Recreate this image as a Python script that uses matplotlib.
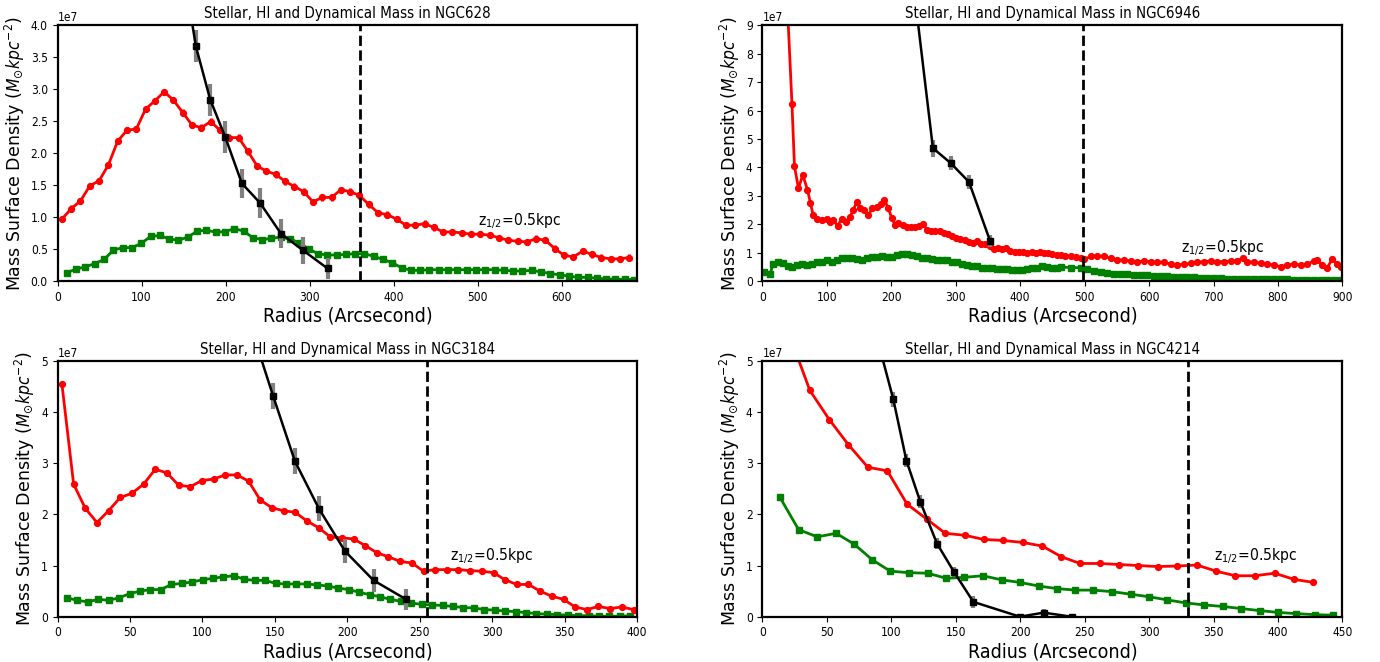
import matplotlib
matplotlib.use('Agg')
import matplotlib.pyplot as plt
from matplotlib import font_manager
import numpy as np

# the reference text is narrow; use a condensed face if one is installed
narrow, stretch, wf = 'DejaVu Sans', 'normal', 1.0
for f in font_manager.fontManager.ttflist:
    if f.style != 'normal' or f.weight not in (400, 'normal', 'regular'):
        continue
    if f.name == 'DejaVu Sans' and f.stretch == 'condensed':
        narrow, stretch, wf = 'DejaVu Sans', 'condensed', 0.89
        break
    if f.name in ('Liberation Sans Narrow', 'Roboto Condensed') and wf == 1.0:
        narrow, stretch, wf = f.name, 'normal', 0.76

plt.rcParams['font.family'] = [narrow, 'DejaVu Sans']
plt.rcParams['font.stretch'] = stretch


def fs(target, cap):
    # size that gives the reference text width, not taller than the reference
    return min(target / wf, cap)


# masses in units of 1e7 Msun/kpc^2, radii in arcsec
# NGC628
r628_hi = [5.2, 16.3, 27.3, 38.4, 49.5, 60.6, 71.6, 82.7, 93.8, 104.8,
           115.9, 127.0, 138.0, 149.1, 160.2, 171.3, 182.3, 193.4, 204.5, 215.5,
           226.6, 237.7, 248.7, 259.8, 270.9, 282.0, 293.0, 304.1, 315.2, 326.2,
           337.3, 348.4, 359.4, 370.5, 381.6, 392.6, 403.7, 414.8, 425.9, 436.9,
           448.0, 459.1, 470.1, 481.2, 492.3, 503.4, 514.4, 525.5, 536.6, 547.6,
           558.7, 569.8, 580.8, 591.9, 603.0, 614.1, 625.1, 636.2, 647.3, 658.3,
           669.4, 680.5]
m628_hi = [0.97, 1.135, 1.255, 1.49, 1.57, 1.82, 2.19, 2.36, 2.38, 2.69,
           2.82, 2.96, 2.83, 2.635, 2.44, 2.40, 2.495, 2.36, 2.245, 2.245,
           2.03, 1.80, 1.72, 1.67, 1.56, 1.48, 1.40, 1.24, 1.31, 1.31,
           1.43, 1.40, 1.34, 1.20, 1.07, 1.04, 0.97, 0.875, 0.875, 0.90,
           0.84, 0.77, 0.77, 0.755, 0.735, 0.735, 0.72, 0.68, 0.64, 0.625,
           0.615, 0.665, 0.64, 0.51, 0.405, 0.38, 0.47, 0.42, 0.37, 0.35,
           0.35, 0.37]
r628_st = [11.1, 22.2, 33.2, 44.3, 55.4, 66.5, 77.5, 88.6, 99.7, 110.7,
           121.8, 132.9, 143.9, 155.0, 166.1, 177.2, 188.2, 199.3, 210.4, 221.4,
           232.5, 243.6, 254.6, 265.7, 276.8, 287.9, 298.9, 310.0, 321.1, 332.1,
           343.2, 354.3, 365.3, 376.4, 387.5, 398.5, 409.6, 420.7, 431.8, 442.8,
           453.9, 465.0, 476.0, 487.1, 498.2, 509.3, 520.3, 531.4, 542.5, 553.5,
           564.6, 575.7, 586.7, 597.8, 608.9, 620.0, 631.0, 642.1, 653.2, 664.2,
           675.3, 686.4]
m628_st = [0.135, 0.19, 0.225, 0.275, 0.34, 0.485, 0.525, 0.525, 0.59, 0.70,
           0.715, 0.66, 0.64, 0.69, 0.78, 0.80, 0.765, 0.775, 0.82, 0.785,
           0.68, 0.65, 0.67, 0.69, 0.66, 0.60, 0.505, 0.43, 0.41, 0.41,
           0.42, 0.43, 0.43, 0.39, 0.34, 0.29, 0.21, 0.17, 0.17, 0.18,
           0.18, 0.18, 0.18, 0.18, 0.18, 0.18, 0.18, 0.17, 0.16, 0.16,
           0.17, 0.145, 0.12, 0.10, 0.08, 0.06, 0.06, 0.047, 0.036, 0.031,
           0.031, 0.026]
r628_dyn = [149.0, 164.7, 181.7, 199.6, 219.4, 241.3, 265.9, 292.0, 321.4]
m628_dyn = [4.95, 3.67, 2.84, 2.255, 1.53, 1.22, 0.745, 0.485, 0.20]
e628_dyn = [0.25, 0.25, 0.25, 0.25, 0.23, 0.23, 0.22, 0.21, 0.17]

# NGC6946
r6946_hi = [35.0, 45.8, 49.7, 55.9, 62.6, 69.9, 74.5, 78.6, 85.4, 92.6,
            99.4, 104.6, 109.8, 116.5, 122.9, 129.1, 135.8, 141.0, 146.3, 151.5,
            158.2, 164.4, 170.6, 177.4, 184.1, 189.3, 195.5, 200.7, 205.9, 211.1,
            217.9, 224.1, 230.8, 237.1, 243.3, 249.0, 255.2, 262.0, 268.2, 274.9,
            281.1, 287.9, 294.1, 300.8, 307.0, 313.8, 320.0, 326.8, 333.0, 339.7,
            345.9, 352.7, 358.9, 365.6, 371.8, 378.6, 384.8, 391.6, 397.8, 404.5,
            410.7, 417.5, 423.7, 430.5, 436.7, 443.4, 449.6, 456.4,
            462.7, 470.0, 478.3, 486.0, 493.8, 499.0, 509.3, 519.6, 530.0, 540.4,
            550.7, 561.0, 571.4, 581.8, 592.0, 602.5, 612.8, 623.0, 633.5, 643.8,
            654.0, 664.5, 674.8, 685.0, 695.5, 705.8, 716.0, 726.5, 736.8, 746.1,
            752.3, 762.7, 773.0, 783.4, 793.7, 804.0, 814.4, 824.7, 835.0, 845.4,
            855.7, 861.0, 868.7, 876.5, 884.3, 892.0, 897.3]
m6946_hi = [11.5, 6.23, 4.04, 3.27, 3.74, 3.21, 2.75, 2.33, 2.19, 2.16,
            2.20, 2.09, 2.16, 1.95, 2.18, 2.09, 2.27, 2.50, 2.79, 2.56,
            2.50, 2.33, 2.56, 2.62, 2.71, 2.85, 2.56, 2.21, 1.98, 2.04,
            1.98, 1.90, 1.90, 1.90, 1.95, 2.02, 1.81, 1.78, 1.78, 1.75,
            1.71, 1.66, 1.60, 1.51, 1.47, 1.45, 1.39, 1.33, 1.42, 1.31,
            1.31, 1.24, 1.13, 1.16, 1.13, 1.16, 1.08, 1.04, 1.02, 1.02,
            0.98, 1.04, 1.00, 1.04, 1.00, 0.98, 0.95, 0.91,
            0.93, 0.90, 0.87, 0.84, 0.81, 0.77, 0.87, 0.90, 0.87, 0.81,
            0.75, 0.75, 0.71, 0.69, 0.71, 0.69, 0.67, 0.67, 0.60, 0.57,
            0.60, 0.63, 0.67, 0.69, 0.71, 0.69, 0.69, 0.71, 0.71, 0.83,
            0.69, 0.67, 0.63, 0.60, 0.57, 0.51, 0.57, 0.60, 0.57, 0.60,
            0.71, 0.75, 0.57, 0.48, 0.78, 0.60, 0.51]
r6946_st = [3.1, 11.8, 16.6, 24.8, 32.6, 40.4, 45.5, 53.3, 61.1, 68.9,
            76.6, 84.4, 92.2, 99.9, 107.7, 115.4, 123.2, 131.0, 138.7, 146.5,
            154.3, 162.0, 169.8, 177.6, 185.3, 193.1, 200.8, 208.6, 216.4, 224.1,
            231.9, 239.6, 247.4, 255.2, 262.9, 270.7, 278.5, 286.2, 294.0, 301.8,
            309.5, 317.3, 325.0, 332.8, 340.6, 348.3, 356.1, 363.9, 371.6, 379.4,
            387.2, 394.9, 402.7, 410.4, 418.2, 426.0, 433.7, 441.5, 449.3, 457.0,
            462.7, 478.3, 493.8, 504.1, 514.5, 524.8, 535.2, 545.5, 555.9, 566.2,
            576.6, 586.9, 597.3, 607.6, 618.0, 628.3, 638.7, 649.0, 659.4, 669.7,
            680.0, 690.4, 700.8, 711.1, 721.5, 731.8, 742.2, 752.5, 762.9, 773.2,
            783.6, 793.9, 804.3, 814.6, 825.0, 835.3, 845.7, 856.0, 866.4, 876.7,
            887.1, 897.4]
m6946_st = [0.34, 0.25, 0.61, 0.66, 0.63, 0.54, 0.49, 0.57, 0.59, 0.57,
            0.59, 0.66, 0.69, 0.73, 0.66, 0.75, 0.80, 0.82, 0.81, 0.77,
            0.75, 0.82, 0.85, 0.85, 0.87, 0.85, 0.85, 0.91, 0.95, 0.95,
            0.91, 0.87, 0.83, 0.81, 0.77, 0.75, 0.75, 0.75, 0.69, 0.66,
            0.61, 0.58, 0.55, 0.52, 0.48, 0.46, 0.45, 0.42, 0.42, 0.42,
            0.40, 0.40, 0.40, 0.42, 0.45, 0.48, 0.52, 0.49, 0.48, 0.47,
            0.50, 0.48, 0.48, 0.42, 0.36, 0.32, 0.29, 0.27, 0.26, 0.25,
            0.23, 0.22, 0.21, 0.20, 0.19, 0.18, 0.16, 0.15, 0.15, 0.14,
            0.13, 0.13, 0.12, 0.11, 0.09, 0.09, 0.08, 0.08, 0.07, 0.07,
            0.07, 0.07, 0.07, 0.07, 0.06, 0.06, 0.06, 0.06, 0.06, 0.06,
            0.05, 0.05]
r6946_dyn = [236.0, 264.5, 291.8, 320.5, 353.3]
m6946_dyn = [10.1, 4.68, 4.16, 3.49, 1.41]
e6946_dyn = [0.3, 0.3, 0.25, 0.25, 0.2]

# NGC3184
r3184_hi = [3.0, 11.1, 19.1, 27.2, 35.2, 43.3, 51.3, 59.4, 67.4, 75.5,
            83.5, 91.6, 99.6, 107.7, 115.7, 123.8, 131.8, 139.9, 147.9, 156.0,
            164.0, 172.1, 180.1, 188.2, 196.2, 204.3, 212.3, 220.4, 228.4, 236.5,
            244.5, 252.6, 260.6, 268.7, 276.7, 284.8, 292.8, 300.9, 308.9, 317.0,
            325.0, 333.1, 341.1, 349.2, 357.2, 365.3, 373.3, 381.4, 389.4, 397.5]
m3184_hi = [4.55, 2.59, 2.12, 1.84, 2.07, 2.33, 2.41, 2.59, 2.88, 2.81,
            2.57, 2.54, 2.66, 2.69, 2.77, 2.77, 2.65, 2.28, 2.13, 2.07,
            2.04, 1.87, 1.74, 1.56, 1.54, 1.52, 1.39, 1.25, 1.17, 1.08,
            1.05, 0.89, 0.92, 0.92, 0.92, 0.90, 0.89, 0.86, 0.72, 0.63,
            0.63, 0.50, 0.40, 0.34, 0.19, 0.14, 0.20, 0.16, 0.19, 0.14]
r3184_st = [6.5, 13.7, 20.9, 28.1, 35.3, 42.5, 49.7, 56.9, 64.1, 71.3,
            78.5, 85.7, 92.9, 100.1, 107.3, 114.5, 121.7, 128.9, 136.1, 143.3,
            150.5, 157.7, 164.9, 172.1, 179.3, 186.5, 193.7, 200.9, 208.1, 215.3,
            222.5, 229.7, 236.9, 244.1, 251.3, 258.5, 265.7, 272.9, 280.1, 287.3,
            294.5, 301.7, 308.9, 316.1, 323.3, 330.5, 337.7, 344.9, 352.1, 359.3,
            366.5, 373.7, 380.9, 388.1, 395.3]
m3184_st = [0.37, 0.32, 0.29, 0.34, 0.32, 0.37, 0.45, 0.50, 0.53, 0.53,
            0.63, 0.65, 0.68, 0.72, 0.75, 0.78, 0.80, 0.73, 0.71, 0.71,
            0.65, 0.64, 0.64, 0.64, 0.62, 0.60, 0.56, 0.53, 0.48, 0.43,
            0.39, 0.34, 0.30, 0.27, 0.24, 0.23, 0.22, 0.20, 0.18, 0.17,
            0.14, 0.13, 0.11, 0.10, 0.08, 0.06, 0.05, 0.04, 0.03, 0.02,
            0.02, 0.01, 0.01, 0.01, 0.02]
r3184_dyn = [135.3, 148.8, 163.8, 180.4, 198.4, 218.1, 240.5]
m3184_dyn = [5.5, 4.31, 3.04, 2.11, 1.28, 0.71, 0.34]
e3184_dyn = [0.26, 0.26, 0.25, 0.24, 0.24, 0.22, 0.21]

# NGC4214
r4214_hi = [21.7, 36.8, 51.9, 66.7, 81.8, 96.9, 112.2, 127.3, 141.8, 157.2,
            171.7, 186.8, 202.1, 217.2, 232.0, 246.5, 261.6, 276.7, 291.5, 306.6,
            321.9, 337.0, 352.1, 366.9, 382.0, 397.3, 412.4, 427.5]
m4214_hi = [5.45, 4.42, 3.85, 3.36, 2.92, 2.85, 2.20, 1.91, 1.63, 1.59,
            1.51, 1.49, 1.45, 1.38, 1.17, 1.04, 1.04, 1.02, 1.00, 0.98,
            0.99, 1.01, 0.89, 0.80, 0.80, 0.85, 0.73, 0.67]
r4214_st = [13.6, 28.1, 42.6, 57.1, 71.1, 85.3, 99.2, 113.7, 128.2, 142.7,
            156.6, 171.1, 185.6, 199.8, 214.3, 228.2, 242.7, 256.7, 271.2, 285.7,
            299.9, 313.8, 328.3, 342.8, 357.3, 371.2, 385.7, 399.7, 414.2, 428.6,
            442.9]
m4214_st = [2.33, 1.70, 1.56, 1.63, 1.42, 1.11, 0.89, 0.86, 0.85, 0.75,
            0.77, 0.80, 0.72, 0.67, 0.60, 0.55, 0.52, 0.52, 0.49, 0.44,
            0.39, 0.33, 0.27, 0.23, 0.20, 0.16, 0.12, 0.085, 0.06, 0.04,
            0.03]
r4214_dyn = [91.5, 101.5, 111.7, 122.4, 135.4, 148.5, 163.6, 199.8, 218.1, 239.9]
m4214_dyn = [5.2, 4.25, 3.05, 2.25, 1.43, 0.88, 0.29, 0.0, 0.08, 0.0]
e4214_dyn = [0.15, 0.15, 0.12, 0.12, 0.1, 0.1, 0.12, 0.05, 0.08, 0.03]

galaxies = ['NGC628', 'NGC6946', 'NGC3184', 'NGC4214']
z_half = [360, 498, 255, 330]       # radius of z_1/2 = 0.5 kpc
x_max = [690, 900, 400, 450]
y_max = [4.0, 9, 5, 5]
y_step = [0.5, 1, 1, 1]
label_pos = [(500, 0.88), (650, 1.0), (271, 1.1), (350, 1.1)]


def panel(ax, name, r_hi, m_hi, r_st, m_st, r_dyn, m_dyn, e_dyn, zline, xmax, ymax, ystep, lpos):
    s = 1e7
    ax.errorbar(r_hi, np.array(m_hi) * s, yerr=0.05 * s, color='red', marker='o',
                ms=4.2, lw=2, elinewidth=2, zorder=2)
    ax.plot(r_st, np.array(m_st) * s, color='green', marker='s', ms=3.8, lw=2, zorder=2)
    ax.errorbar(r_dyn, np.array(m_dyn) * s, yerr=np.array(e_dyn) * s, color='black',
                marker='s', ms=4, lw=1.8, ecolor='gray', elinewidth=3, zorder=3)
    ax.axvline(zline, color='black', ls='--', lw=2, zorder=4)
    ax.text(lpos[0], lpos[1] * s, r'z$_{1/2}$=0.5kpc', fontsize=fs(10, 12.5))

    ax.set_xlim(0, xmax)
    ax.set_ylim(0, ymax * s)
    ax.set_yticks(np.arange(0, ymax + ystep / 2, ystep) * s)
    ax.set_title('Stellar, HI and Dynamical Mass in ' + name, fontsize=fs(9.6, 13), pad=5)
    ax.set_xlabel('Radius (Arcsecond)', fontsize=fs(12.5, 17), labelpad=2)
    ax.set_ylabel(r'Mass Surface Density ($M_{\odot}kpc^{-2}$)', fontsize=12.5,
                  family='DejaVu Sans', stretch='normal', math_fontfamily='dejavusans',
                  labelpad=3)
    ax.tick_params(labelsize=fs(7.6, 10))
    ax.yaxis.get_offset_text().set_fontsize(fs(7.6, 10))
    for sp in ax.spines.values():
        sp.set_linewidth(1.6)


fig = plt.figure(figsize=(13.8, 6.62), dpi=100)
boxes = [[0.0417, 0.5752, 0.42, 0.3866],
         [0.5525, 0.5752, 0.4203, 0.3866],
         [0.0417, 0.0684, 0.42, 0.3866],
         [0.5525, 0.0684, 0.4203, 0.3866]]
data = [(r628_hi, m628_hi, r628_st, m628_st, r628_dyn, m628_dyn, e628_dyn),
        (r6946_hi, m6946_hi, r6946_st, m6946_st, r6946_dyn, m6946_dyn, e6946_dyn),
        (r3184_hi, m3184_hi, r3184_st, m3184_st, r3184_dyn, m3184_dyn, e3184_dyn),
        (r4214_hi, m4214_hi, r4214_st, m4214_st, r4214_dyn, m4214_dyn, e4214_dyn)]

for i in range(4):
    ax = fig.add_axes(boxes[i])
    panel(ax, galaxies[i], *data[i], z_half[i], x_max[i], y_max[i], y_step[i], label_pos[i])

fig.savefig('out.png', dpi=100)
